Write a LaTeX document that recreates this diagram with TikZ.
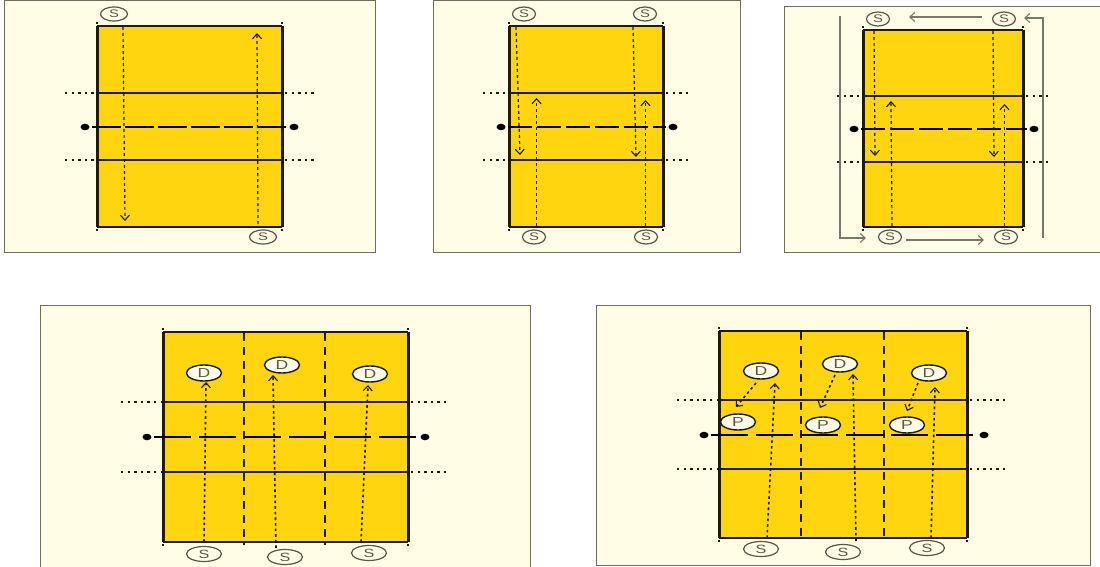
\documentclass[tikz,border=0pt]{standalone}
\usepackage{fontspec}
\setmainfont{Liberation Sans}
\usetikzlibrary{arrows.meta,shapes.geometric}
\definecolor{paper}{HTML}{FFFDE6}
\definecolor{courtfill}{HTML}{FFD510}
\definecolor{framecol}{HTML}{6E6E60}
\definecolor{inkcol}{HTML}{1E1A08}
\definecolor{mancol}{HTML}{55584A}
\definecolor{movecol}{HTML}{77786C}
\tikzset{
  panel/.style={fill=paper},
  frameline/.style={draw=framecol,line width=1pt},
  sideline/.style={draw=inkcol,line width=3pt},
  courtline/.style={draw=inkcol,line width=1.3pt},
  netline/.style={draw=black,line width=2.4pt},
  outdots/.style={draw=inkcol,line width=1.3pt,dash pattern=on 2.4pt off 4.2pt},
  zoneline/.style={draw=inkcol,line width=1.8pt,dash pattern=on 8pt off 6pt},
  tickmark/.style={draw=inkcol,line width=1.4pt},
  postdot/.style={ellipse,fill=black,inner sep=0pt,minimum width=9pt,minimum height=6.5pt},
  server/.style={ellipse,draw=mancol,fill=paper,line width=1.2pt,inner sep=0pt,minimum width=27pt,minimum height=14pt,text=mancol,font=\fontsize{11}{11}\selectfont},
  wideserver/.style={server,minimum width=35pt,minimum height=15pt,font=\fontsize{12}{12}\selectfont},
  player/.style={ellipse,draw=inkcol,fill=paper,line width=1.4pt,inner sep=0pt,minimum width=35pt,minimum height=16pt,text=mancol,font=\fontsize{13}{13}\selectfont},
  run/.style={draw=inkcol,line width=1.2pt,dash pattern=on 3pt off 3pt,-{Straight Barb[length=5pt,width=9pt,line width=1.1pt]}},
  runbold/.style={run,line width=1.6pt,dash pattern=on 2.6pt off 3pt},
  move/.style={draw=movecol,line width=1.1pt,-{Straight Barb[length=5pt,width=9pt,line width=1.1pt]}}
}
\newcommand{\wideletter}[1]{\scalebox{1.35}[1]{#1}}
\begin{document}
\begin{tikzpicture}[x=1pt,y=-1pt]
\useasboundingbox (0,0) rectangle (1100,567);
\fill[white] (0,0) rectangle (1100,567);
% panels
\fill[panel] (4,1) rectangle (375,252);
\draw[frameline] (4,1) rectangle (375,252);
\fill[panel] (433,1) rectangle (740,252);
\draw[frameline] (433,1) rectangle (740,252);
\fill[panel] (784,7) rectangle (1100,252);
\draw[frameline] (1100,7) -- (784,7) -- (784,252) -- (1100,252);
\fill[panel] (40,305) rectangle (530,567);
\draw[frameline] (40,567) -- (40,305) -- (530,305) -- (530,567);
\fill[panel] (596,305) rectangle (1090,565);
\draw[frameline] (596,305) rectangle (1090,565);
% courts: left/right/top/line/net/line/bottom/dot L/dot R/dotted L/dotted R/net dash on/off
\foreach \xl/\xr/\yt/\ya/\yn/\yb/\yo/\dl/\dr/\fl/\fr/\non/\noff in {
  97/282/26/93/127/160/227/85/294/65/314/29/4,
  509/663/26/93/127/160/227/501/673/483/690/24/5,
  863/1023/30/96/129/162/227/854/1034/837/1051/24/5,
  163/408/332/402/437/472/542/147/425/121/449/37/8,
  719/967/331/400/435/469/538/704/984/677/1009/37/8}{
  \fill[courtfill] (\xl,\yt) rectangle (\xr,\yo);
  \draw[courtline] (\xl,\yt) -- (\xr,\yt);
  \draw[courtline] (\xl,\yo) -- (\xr,\yo);
  \draw[sideline] (\xl,\yt) -- (\xl,\yo);
  \draw[sideline] (\xr,\yt) -- (\xr,\yo);
  \draw[courtline] (\xl,\ya) -- (\xr,\ya);
  \draw[courtline] (\xl,\yb) -- (\xr,\yb);
  \draw[outdots] (\fl,\ya) -- (\xl-2,\ya);
  \draw[outdots] (\xr+3,\ya) -- (\fr,\ya);
  \draw[outdots] (\fl,\yb) -- (\xl-2,\yb);
  \draw[outdots] (\xr+3,\yb) -- (\fr,\yb);
  \draw[netline,dash pattern=on \non pt off \noff pt] (\dl+7,\yn) -- (\dr-7,\yn);
  \node[postdot] at (\dl,\yn) {};
  \node[postdot] at (\dr,\yn) {};
  \foreach \tx in {\xl,\xr}{
    \draw[tickmark] (\tx,\yt-4) -- (\tx,\yt-2);
    \draw[tickmark] (\tx,\yo+2) -- (\tx,\yo+4);
  }
}
% zone lines
\draw[zoneline] (244,333) -- (244,545);
\draw[zoneline] (325,333) -- (325,545);
\draw[zoneline] (801,332) -- (801,541);
\draw[zoneline] (884,332) -- (884,541);
% free ends
\coordinate (a1) at (123,27);   \coordinate (a1e) at (125,221);
\coordinate (a2) at (258,224);  \coordinate (a2e) at (257,33);
\coordinate (b1) at (516,27);   \coordinate (b1e) at (520,155);
\coordinate (b2) at (633,27);   \coordinate (b2e) at (636,157);
\coordinate (b3) at (536.5,226);  \coordinate (b3e) at (536.5,98);
\coordinate (b4) at (645.5,226);  \coordinate (b4e) at (645.5,100);
\coordinate (c1) at (874,31);   \coordinate (c1e) at (875,156);
\coordinate (c2) at (993,31);   \coordinate (c2e) at (994,157);
\coordinate (c3) at (892,226);  \coordinate (c3e) at (891,101);
\coordinate (c4) at (1004.5,226); \coordinate (c4e) at (1004.5,104);
\coordinate (m1) at (982,17);   \coordinate (m1e) at (909,17);
\coordinate (m2) at (1043,238); \coordinate (m2c) at (1043,18); \coordinate (m2e) at (1024,18);
\coordinate (m3) at (840,16);   \coordinate (m3c) at (840,238); \coordinate (m3e) at (866,238);
\coordinate (m4) at (906,240);  \coordinate (m4e) at (984,240);
\coordinate (d1) at (204,542);  \coordinate (d1e) at (206,382);
\coordinate (d2) at (276,548);  \coordinate (d2e) at (273,375);
\coordinate (d3) at (361,542);  \coordinate (d3e) at (368,385);
\coordinate (e1) at (767,538);  \coordinate (e1e) at (775,383);
\coordinate (e2) at (856,541);  \coordinate (e2e) at (853,374);
\coordinate (e3) at (931,538);  \coordinate (e3e) at (935,387);
\coordinate (f1) at (756,383);  \coordinate (f1e) at (736,407);
\coordinate (f2) at (835,375);  \coordinate (f2e) at (820,408);
\coordinate (f3) at (918,383);  \coordinate (f3e) at (907,411);
% runs
\foreach \p in {a1,a2,b1,b2,b3,b4,c1,c2,c3,c4}
  \draw[run] (\p) -- (\p e);
\foreach \p in {d1,d2,d3,e1,e2,e3,f1,f2,f3}
  \draw[runbold] (\p) -- (\p e);
% rotation arrows
\draw[move] (m1) -- (m1e);
\draw[move] (m2) -- (m2c) -- (m2e);
\draw[move] (m3) -- (m3c) -- (m3e);
\draw[move] (m4) -- (m4e);
% servers
\node[server] (s1) at (114,14) {\wideletter{S}};
\node[server] (s2) at (263,237) {\wideletter{S}};
\node[server,minimum width=23pt] (s3) at (524,14) {\wideletter{S}};
\node[server,minimum width=23pt] (s4) at (645,14) {\wideletter{S}};
\node[server,minimum width=23pt] (s5) at (534,237) {\wideletter{S}};
\node[server,minimum width=23pt] (s6) at (646,237) {\wideletter{S}};
\node[server,minimum width=23pt] (s7) at (878,19) {\wideletter{S}};
\node[server,minimum width=23pt] (s8) at (1004,19) {\wideletter{S}};
\node[server,minimum width=23pt] (s9) at (890,237) {\wideletter{S}};
\node[server,minimum width=23pt] (s10) at (1006,237) {\wideletter{S}};
\node[wideserver] (s11) at (204,554) {\wideletter{S}};
\node[wideserver] (s12) at (285,557) {\wideletter{S}};
\node[wideserver] (s13) at (369,553) {\wideletter{S}};
\node[wideserver] (s14) at (761,549) {\wideletter{S}};
\node[wideserver] (s15) at (843,552) {\wideletter{S}};
\node[wideserver] (s16) at (927,548) {\wideletter{S}};
% defenders and players
\node[player] (p1) at (204,373) {\wideletter{D}};
\node[player] (p2) at (282,365) {\wideletter{D}};
\node[player] (p3) at (370,374) {\wideletter{D}};
\node[player] (p4) at (761,371) {\wideletter{D}};
\node[player] (p5) at (840,364) {\wideletter{D}};
\node[player] (p6) at (929,373) {\wideletter{D}};
\node[player] (p7) at (738,422) {\wideletter{P}};
\node[player] (p8) at (823,425) {\wideletter{P}};
\node[player] (p9) at (907,425) {\wideletter{P}};
\end{tikzpicture}
\end{document}
